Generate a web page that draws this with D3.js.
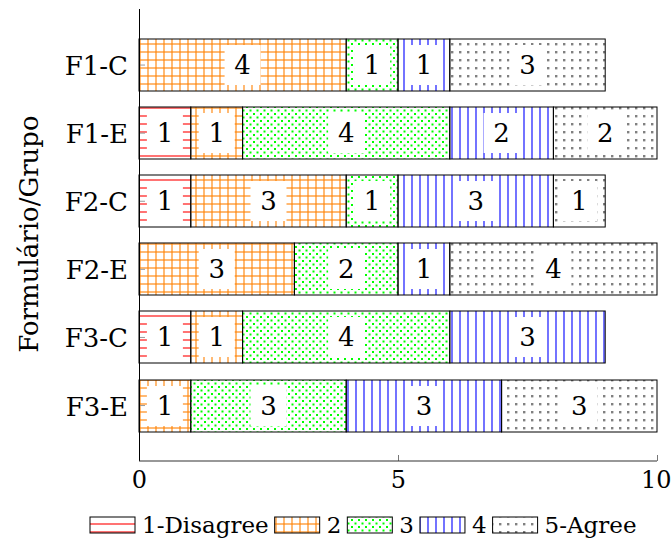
<html>
<head>
<script src="https://d3js.org/d3.v7.min.js"></script>
<style>
  body { margin: 0; background: #fff; }
  text { font-family: "DejaVu Serif", "Liberation Serif", "Noto Serif", serif; }
</style>
</head>
<body>
<svg id="chart"></svg>
<script>
// datos
var groups = ["F1-C", "F1-E", "F2-C", "F2-E", "F3-C", "F3-E"];
var levels = ["1-Disagree", "2", "3", "4", "5-Agree"];
var disagree = [0, 1, 1, 0, 1, 0];
var level2   = [4, 1, 3, 3, 1, 1];
var level3   = [1, 4, 1, 2, 4, 3];
var level4   = [1, 2, 3, 1, 3, 3];
var agree    = [3, 2, 1, 4, 0, 3];
var xTicks = [0, 5, 10];

var series = [disagree, level2, level3, level4, agree];
var colors = ["#ff0000", "#ff8000", "#00ff00", "#0000ff", "#808080"];

var W = 672, H = 540;
var svg = d3.select("#chart").attr("width", W).attr("height", H);

/* patrones estilo pgfplots */
var defs = svg.append("defs");
function pat(id, s) {
  return defs.append("pattern").attr("id", id)
    .attr("patternUnits", "userSpaceOnUse")
    .attr("width", s).attr("height", s);
}
// horizontal lines
pat("p0", 8).append("line").attr("x1", 0).attr("x2", 8).attr("y1", 4).attr("y2", 4)
  .attr("stroke", colors[0]).attr("stroke-width", 1.1);
// grid
var g1 = pat("p1", 8);
g1.append("line").attr("x1", 0).attr("x2", 8).attr("y1", 4).attr("y2", 4)
  .attr("stroke", colors[1]).attr("stroke-width", 1.1);
g1.append("line").attr("x1", 4).attr("x2", 4).attr("y1", 0).attr("y2", 8)
  .attr("stroke", colors[1]).attr("stroke-width", 1.1);
// crosshatch dots
var g2 = pat("p2", 7);
g2.append("rect").attr("x", 1).attr("y", 1).attr("width", 2).attr("height", 2).attr("fill", colors[2]);
g2.append("rect").attr("x", 4.5).attr("y", 4.5).attr("width", 2).attr("height", 2).attr("fill", colors[2]);
// vertical lines
pat("p3", 8).append("line").attr("x1", 4).attr("x2", 4).attr("y1", 0).attr("y2", 8)
  .attr("stroke", colors[3]).attr("stroke-width", 1.1);
// dots
pat("p4", 8).append("rect").attr("x", 3).attr("y", 3).attr("width", 2.4).attr("height", 2.4).attr("fill", colors[4]);

/* escalas */
var x = d3.scaleLinear().domain([0, 10]).range([139, 657]);
var y = d3.scaleBand().domain(groups).range([31, 439.6]).paddingInner(0.236).paddingOuter(0.118);

/* segmentos apilados */
var rows = groups.map(function(g, i) {
  var acc = 0;
  return series.map(function(s, k) {
    var seg = {group: g, k: k, v: s[i], x0: acc, x1: acc + s[i]};
    acc += s[i];
    return seg;
  }).filter(function(d) { return d.v > 0; });
});
var segs = [].concat.apply([], rows);

var bars = svg.append("g");
bars.selectAll("rect").data(segs).enter().append("rect")
  .attr("x", function(d) { return x(d.x0); })
  .attr("y", function(d) { return Math.round(y(d.group)); })
  .attr("width", function(d) { return x(d.x1) - x(d.x0); })
  .attr("height", Math.round(y.bandwidth()))
  .attr("fill", function(d) { return "url(#p" + d.k + ")"; })
  .attr("stroke", "#000").attr("stroke-width", 1);

/* etiquetas con fondo blanco */
var lab = svg.append("g").selectAll("g").data(segs).enter().append("g")
  .attr("transform", function(d) {
    return "translate(" + ((x(d.x0) + x(d.x1)) / 2) + "," + (Math.round(y(d.group)) + y.bandwidth() / 2) + ")";
  });
lab.append("rect").attr("x", -18).attr("y", -20).attr("width", 36).attr("height", 40).attr("fill", "#fff");
lab.append("text").attr("text-anchor", "middle").attr("y", 9)
  .attr("font-size", 26).text(function(d) { return d.v; });

/* ejes */
var xAxis = svg.append("g").attr("transform", "translate(0,461)")
  .call(d3.axisBottom(x).tickValues(xTicks).tickSizeInner(-6).tickSizeOuter(0).tickPadding(10));
xAxis.select(".domain").remove();
xAxis.selectAll("line").attr("stroke", "#777");
xAxis.selectAll("text").attr("font-size", 24).attr("font-family", null).attr("fill", "#000");
xAxis.selectAll(".tick:last-of-type text").attr("text-anchor", "end").attr("x", 14);

var yAxis = svg.append("g").attr("transform", "translate(139,0)")
  .call(d3.axisLeft(y).tickSizeInner(-6).tickSizeOuter(0).tickPadding(11));
yAxis.select(".domain").remove();
yAxis.selectAll("line").attr("stroke", "#999");
yAxis.selectAll("text").attr("font-size", 26).attr("font-family", null).attr("fill", "#000")
  .attr("dy", null).attr("y", 10);

svg.append("line").attr("x1", 139.5).attr("x2", 139.5).attr("y1", 9).attr("y2", 461).attr("stroke", "#000");
svg.append("line").attr("x1", 139).attr("x2", 657).attr("y1", 461).attr("y2", 461).attr("stroke", "#333").attr("stroke-width", 1.2);

svg.append("text").attr("transform", "translate(38,234) rotate(-90)")
  .attr("text-anchor", "middle").attr("font-size", 26).text("Formulário/Grupo");

/* leyenda */
var lx = 90;
var leg = svg.append("g");
levels.forEach(function(name, k) {
  leg.append("rect").attr("x", lx).attr("y", 517).attr("width", 45).attr("height", 16)
    .attr("fill", "url(#p" + k + ")").attr("stroke", "#000").attr("stroke-width", 1);
  var t = leg.append("text").attr("x", lx + 52).attr("y", 533).attr("font-size", 23).text(name);
  lx = lx + 52 + t.node().getComputedTextLength() + 6;
});
</script>
</body>
</html>
